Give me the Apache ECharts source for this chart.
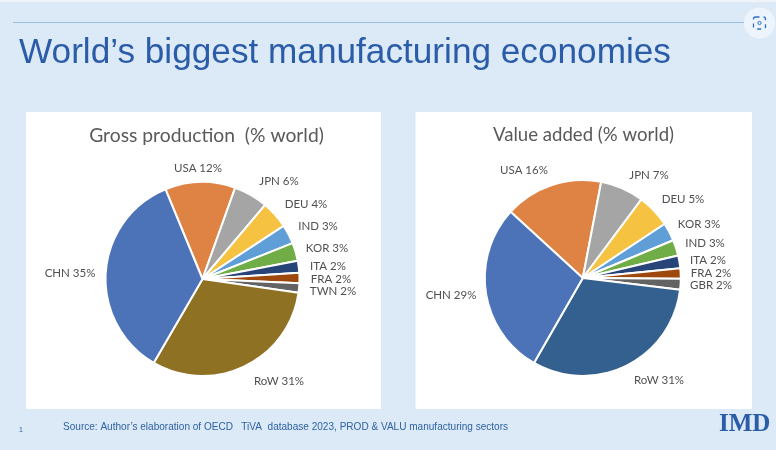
<!DOCTYPE html>
<html><head><meta charset="utf-8">
<style>html,body{margin:0;padding:0;background:#dce9f6}#c{width:776px;height:450px}</style>
<script src="https://cdn.jsdelivr.net/npm/echarts@6/dist/echarts.min.js"></script>
</head><body><div id="c"></div>
<script>
const grossNames = ['USA','JPN','DEU','IND','KOR','ITA','FRA','TWN','RoW','CHN'];
const grossShown = [12,6,4,3,3,2,2,2,31,35];
const grossValues = [11.7,5.7,4.6,3.2,3.0,2.0,1.7,1.6,31.1,35.4];
const addedNames = ['USA','JPN','DEU','KOR','IND','ITA','FRA','GBR','RoW','CHN'];
const addedShown = [16,7,5,3,3,2,2,2,31,29];
const addedValues = [16.2,7.2,5.5,3.0,2.6,2.1,1.7,1.8,31.4,28.5];

const grossColors = ['#df8344','#a5a5a5','#f5c242','#5f9ed6','#70ad47','#264478','#9e480e','#636363','#8f7124','#4c72b8'];
const addedColors = ['#df8344','#a5a5a5','#f5c242','#5f9ed6','#70ad47','#264478','#9e480e','#636363','#34608f','#4c72b8'];
const grossLabelAt = [[198,168],[279,181],[306,204],[318,226],[327,248],[328,266],[331,279],[333,291],[279,381],[70,273]];
const addedLabelAt = [[524,170],[649,175],[683,199],[699,224],[705,243],[708,260],[711,273],[711,285],[659,380],[451,295]];

function rows(names, shown, values, colors){
  return names.map((n,i)=>({name:n, value:values[i], shown:shown[i], itemStyle:{color:colors[i]}}));
}
function pie(names, shown, values, colors, at, center, radius, start){
  return {
    type:'pie', center:center, radius:radius, startAngle:start, clockwise:true, animation:false, silent:true, sort:null, minAngle:0, avoidLabelOverlap:false,
    data:rows(names,shown,values,colors),
    itemStyle:{borderColor:'#fff',borderWidth:2},
    label:{show:true,position:'outside',fontFamily:'Lato',fontSize:11.5,color:'#505050',
      formatter:p=>p.name+' '+p.data.shown+'%'},
    labelLine:{show:false},
    labelLayout:p=>({x:at[p.dataIndex][0],y:at[p.dataIndex][1],align:'center',verticalAlign:'middle',hideOverlap:false,moveOverlap:false})
  };
}
const chart = echarts.init(document.getElementById('c'),null,{renderer:'canvas'});
chart.setOption({
  backgroundColor:'#dce9f6',
  animation:false,
  title:[
    {text:'World’s biggest manufacturing economies',left:19,top:36,textStyle:{fontFamily:'Liberation Sans',fontSize:35.2,fontWeight:'normal',color:'#2a5ca8'},padding:0},
    {text:'Gross production  (% world)',left:206.5,top:126,textAlign:'center',textStyle:{fontFamily:'Lato',fontSize:19.3,fontWeight:'normal',color:'#595959'},padding:0},
    {text:'Value added (% world)',left:583.5,top:125,textAlign:'center',textStyle:{fontFamily:'Lato',fontSize:18.6,fontWeight:'normal',color:'#595959'},padding:0},
    {text:'Source: Author’s elaboration of OECD   TiVA  database 2023, PROD & VALU manufacturing sectors',left:63,top:422,textStyle:{fontFamily:'Liberation Sans',fontSize:10.05,fontWeight:'normal',color:'#2f62a6'},padding:0},
    {text:'1',left:19,top:427,textStyle:{fontFamily:'Liberation Sans',fontSize:7,fontWeight:'normal',color:'#2f62a6'},padding:0},
    {text:'IMD',left:719,top:412,textStyle:{fontFamily:'Liberation Serif',fontSize:25,fontWeight:'bold',color:'#2a5ca8'},padding:0}
  ],
  graphic:[
    {type:'rect',silent:true,z:-1,shape:{x:0,y:0,width:776,height:2},style:{fill:'#f0f3f7'}},
    {type:'rect',silent:true,z:-1,shape:{x:26,y:112,width:355,height:297},style:{fill:'#ffffff'}},
    {type:'rect',silent:true,z:-1,shape:{x:415.5,y:112,width:336.5,height:297},style:{fill:'#ffffff'}},
    {type:'line',silent:true,z:-1,shape:{x1:13,y1:22.5,x2:752,y2:22.5},style:{stroke:'#9dbfe0',lineWidth:1}},
    {type:'circle',silent:true,z:5,shape:{cx:759.5,cy:23,r:15.5},style:{fill:'#eef4fb'}},
    {type:'rect',silent:true,z:6,shape:{x:753.5,y:17,width:12,height:12,r:2},style:{fill:'none',stroke:'#2f6fd0',lineWidth:1.3,lineDash:[4,4]}},
    {type:'circle',silent:true,z:6,shape:{cx:759.5,cy:23,r:1.6},style:{fill:'none',stroke:'#2f6fd0',lineWidth:1}}
  ],
  series:[
    pie(grossNames,grossShown,grossValues,grossColors,grossLabelAt,[202.5,279],97,112.4),
    pie(addedNames,addedShown,addedValues,addedColors,addedLabelAt,[582.8,278],98,137.5)
  ]
});
</script></body></html>
